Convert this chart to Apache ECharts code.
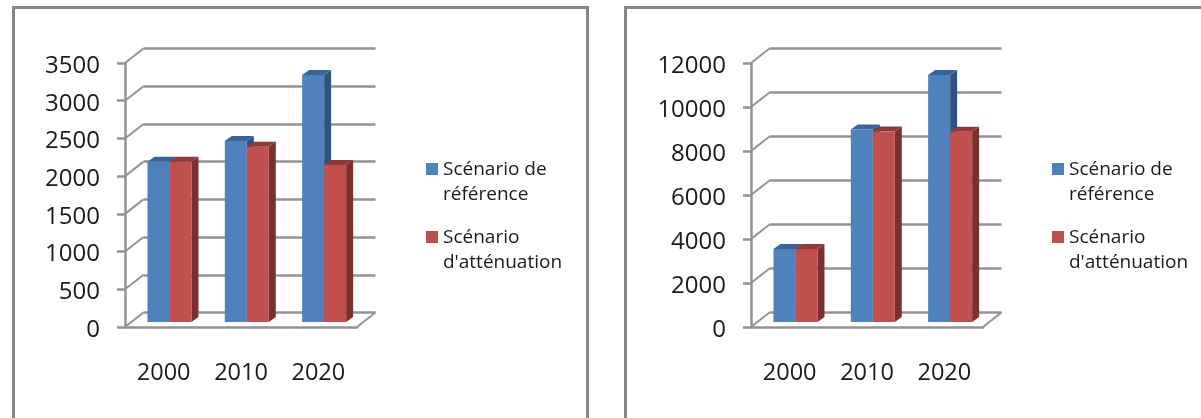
<!DOCTYPE html>
<html><head><meta charset="utf-8">
<style>html,body{margin:0;padding:0;background:#fff}#c{width:1201px;height:418px}</style>
<script src="https://cdn.jsdelivr.net/npm/echarts@6/dist/echarts.min.js"></script></head>
<body><div id="c"></div>
<script>
const categories = ['2000', '2010', '2020'];
const seriesNames = ['Scénario de référence', "Scénario d'atténuation"];
const leftReference = [2125, 2400, 3275];
const leftMitigation = [2125, 2324, 2081];
const leftTicks = [0, 500, 1000, 1500, 2000, 2500, 3000, 3500];
const rightReference = [3320, 8750, 11230];
const rightMitigation = [3320, 8660, 8650];
const rightTicks = [0, 2000, 4000, 6000, 8000, 10000, 12000];

const FONT = '"Open Sans", sans-serif';
const GREY = '#939393';
const COLORS = [
  { front: '#4F81BD', side: '#2F5280', top: '#3A6496' },
  { front: '#C0504D', side: '#7A302E', top: '#8F3A38' }
];
const W = 232, H = 264, TOP = 63;
const DEPTH_X = 18.5, DEPTH_Y = 14.5, BAR_W = 22, BAR_DX = 7, BAR_DY = 5;

const chart = echarts.init(document.getElementById('c'), null, { renderer: 'canvas' });
const option = { animation: false, backgroundColor: '#fff', grid: [], xAxis: [], yAxis: [], series: [], legend: [],
  graphic: [
    { type: 'rect', shape: { x: 13.5, y: 7.5, width: 574, height: 520 }, style: { fill: 'none', stroke: '#868686', lineWidth: 3 }, silent: true, z: -10 },
    { type: 'rect', shape: { x: 625.5, y: 7.5, width: 700, height: 520 }, style: { fill: 'none', stroke: '#868686', lineWidth: 3 }, silent: true, z: -10 }
  ] };

function wrapLegend(name) {
  return name.replace('Scénario de ', 'Scénario de\n').replace("Scénario d'", "Scénario\nd'");
}

function addPanel(left, legendLeft, ticks, refValues, mitValues) {
  const max = ticks[ticks.length - 1], interval = ticks[1] - ticks[0];
  const g = option.grid.length;
  // front plane (axes), back wall (gridlines), bar plane
  option.grid.push(
    { left: left, top: TOP, width: W, height: H },
    { left: left + DEPTH_X, top: TOP - DEPTH_Y, width: W, height: H },
    { left: left + 5.8, top: TOP - 5, width: W, height: H }
  );
  const lineStyle = { color: GREY, width: 2.5 };
  option.xAxis.push(
    { gridIndex: g, type: 'category', data: categories, axisLine: { lineStyle }, axisTick: { alignWithLabel: false, length: 9, lineStyle },
      axisLabel: { color: '#1a1a1a', fontFamily: FONT, fontSize: 23.5, margin: 34 } },
    { gridIndex: g + 1, type: 'category', data: categories, axisLine: { show: false }, axisTick: { show: false }, axisLabel: { show: false } },
    { gridIndex: g + 2, type: 'category', data: categories, axisLine: { show: false }, axisTick: { show: false }, axisLabel: { show: false } }
  );
  const yBase = { type: 'value', min: 0, max: max, interval: interval };
  option.yAxis.push(
    Object.assign({ gridIndex: g, axisLine: { show: true, lineStyle }, axisTick: { show: true, length: 8, lineStyle },
      axisLabel: { color: '#1a1a1a', fontFamily: FONT, fontSize: 24, margin: 25, formatter: v => '{n|' + v + '}',
        rich: { n: { color: '#1a1a1a', fontFamily: FONT, fontSize: 24, padding: [6, 0, 0, 0] } } }, splitLine: { show: false } }, yBase),
    Object.assign({ gridIndex: g + 1, axisLine: { show: false }, axisTick: { show: false }, axisLabel: { show: false },
      splitLine: { show: true, lineStyle: { color: GREY, width: 2.5 } } }, yBase),
    Object.assign({ gridIndex: g + 2, axisLine: { show: false }, axisTick: { show: false }, axisLabel: { show: false }, splitLine: { show: false } }, yBase)
  );
  // side-wall diagonals joining axis ticks to the back-wall gridlines, and the floor's right edge
  option.series.push({
    type: 'custom', xAxisIndex: g, yAxisIndex: g, silent: true, z: 1, clip: false,
    data: ticks.map(t => [0, t]),
    encode: { x: 0, y: 1 },
    renderItem(params, api) {
      const cs = params.coordSys;
      const y = api.coord([0, api.value(1)])[1];
      const seg = x => ({ type: 'line', shape: { x1: x, y1: y, x2: x + DEPTH_X, y2: y - DEPTH_Y }, style: { stroke: GREY, lineWidth: 2 } });
      const children = [seg(cs.x)];
      if (api.value(1) === 0) children.push(seg(cs.x + cs.width));
      return { type: 'group', children };
    }
  });
  [refValues, mitValues].forEach((vals, si) => {
    const c = COLORS[si];
    option.series.push({
      name: seriesNames[si], type: 'custom', xAxisIndex: g + 2, yAxisIndex: g + 2, z: 3 + si, clip: false,
      itemStyle: { color: c.front },
      data: vals.map((v, i) => [i, v]),
      encode: { x: 0, y: 1 },
      renderItem(params, api) {
        const center = api.coord([api.value(0), 0])[0];
        const base = api.coord([api.value(0), 0])[1];
        const top = api.coord([api.value(0), api.value(1)])[1];
        const x0 = center + (si === 0 ? -BAR_W : 0), x1 = x0 + BAR_W;
        const poly = (points, fill) => ({ type: 'polygon', shape: { points }, style: { fill } });
        return { type: 'group', children: [
          poly([[x1, top], [x1 + BAR_DX, top - BAR_DY], [x1 + BAR_DX, base - BAR_DY], [x1, base]], c.side),
          poly([[x0, top], [x0 + BAR_DX, top - BAR_DY], [x1 + BAR_DX, top - BAR_DY], [x1, top]], c.top),
          poly([[x0, top], [x1, top], [x1, base], [x0, base]], c.front)
        ] };
      }
    });
  });
  option.legend.push({
    left: legendLeft, top: 157, orient: 'vertical', padding: 0, itemGap: 18, itemWidth: 12, itemHeight: 50, selectedMode: false,
    data: seriesNames.map((name, si) => ({
      name,
      icon: 'path://M0,6h12v12h-12z M0,0h0.01 M0,50h0.01',
      itemStyle: { color: COLORS[si].front }
    })),
    formatter: wrapLegend,
    textStyle: { color: '#1a1a1a', fontFamily: FONT, fontSize: 19, lineHeight: 25 }
  });
}

addPanel(125, 426, leftTicks, leftReference, leftMitigation);
addPanel(751, 1052, rightTicks, rightReference, rightMitigation);
chart.setOption(option);
</script></body></html>
